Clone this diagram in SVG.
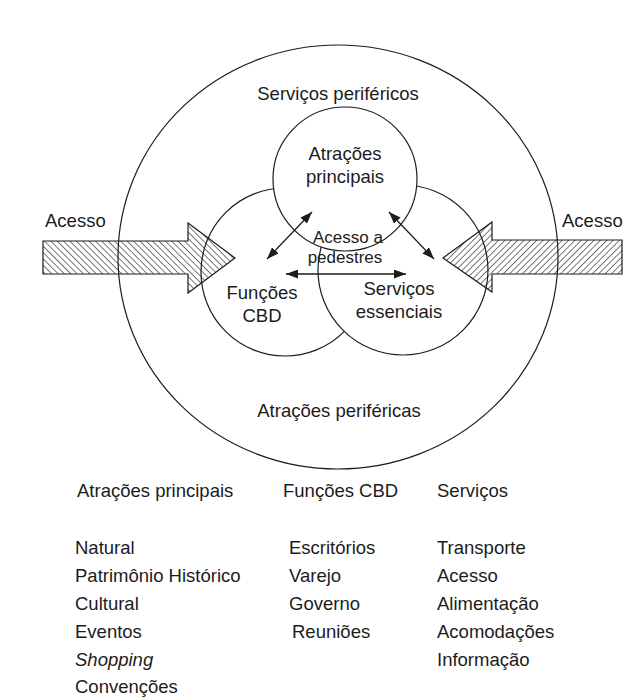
<svg xmlns="http://www.w3.org/2000/svg" width="627" height="700" viewBox="0 0 627 700">
<style>
text{font-family:"Liberation Sans",Arial,sans-serif;font-size:18.5px;fill:#1c1c1c}
.c{text-anchor:middle}
.ring{fill:#fff;stroke:#1c1c1c;stroke-width:1.2}
.acc{stroke:#1c1c1c;stroke-width:1.2}
.link{stroke:#1c1c1c;stroke-width:1.3;fill:none;marker-start:url(#ah);marker-end:url(#ah)}
.sm{font-size:17px}
</style>
<defs>
<pattern id="hl" width="4.5" height="4.5" patternUnits="userSpaceOnUse" patternTransform="rotate(-45)">
<line x1="0" y1="0" x2="0" y2="4.5" stroke="#1c1c1c" stroke-width="1.2"/>
</pattern>
<pattern id="hr" width="4.5" height="4.5" patternUnits="userSpaceOnUse" patternTransform="rotate(45)">
<line x1="0" y1="0" x2="0" y2="4.5" stroke="#1c1c1c" stroke-width="1.2"/>
</pattern>
<marker id="ah" markerUnits="userSpaceOnUse" markerWidth="13" markerHeight="9" refX="12" refY="4.5" orient="auto-start-reverse">
<path d="M0,0 L12,4.5 L0,9 z" fill="#1c1c1c"/>
</marker>
</defs>
<rect width="627" height="700" fill="#fff"/>
<g id="outer">
<ellipse cx="338" cy="257" rx="220" ry="212" fill="#fff" stroke="#1c1c1c" stroke-width="1.2"/>
<text class="c" x="338" y="100">Serviços periféricos</text>
<text class="c" x="339" y="417">Atrações periféricas</text>
</g>
<g id="cbd">
<circle class="ring" cx="285" cy="272" r="84"/>
<text class="c" x="262" y="299">Funções</text>
<text class="c" x="262" y="322">CBD</text>
</g>
<g id="servicos">
<circle class="ring" cx="403" cy="270" r="85"/>
<text class="c" x="399" y="295">Serviços</text>
<text class="c" x="399" y="318">essenciais</text>
</g>
<g id="atracoes">
<circle class="ring" cx="345" cy="179" r="72"/>
<text class="c" x="345" y="160">Atrações</text>
<text class="c" x="345" y="183">principais</text>
</g>
<g id="pedestres">
<text class="c sm" x="348" y="243">Acesso a</text>
<text class="c sm" x="345" y="263">pedestres</text>
</g>
<g id="acesso-esq">
<path class="acc" d="M43,241 L188,241 L188,223 L235,258 L188,293 L188,274 L43,274 Z" fill="url(#hl)"/>
<text x="45" y="227">Acesso</text>
</g>
<g id="acesso-dir">
<path class="acc" d="M622,240 L492,240 L492,222 L443,258 L492,292 L492,274 L622,274 Z" fill="url(#hr)"/>
<text x="562" y="227">Acesso</text>
</g>
<g id="connectors">
<line class="link" x1="286" y1="274" x2="406" y2="274"/>
<line class="link" x1="312" y1="212" x2="267" y2="259"/>
<line class="link" x1="389" y1="212" x2="434" y2="259"/>
</g>
<g id="lista-atracoes">
<text x="77" y="497">Atrações principais</text>
<text x="75" y="554">Natural</text>
<text x="75" y="582">Patrimônio Histórico</text>
<text x="75" y="610">Cultural</text>
<text x="75" y="638">Eventos</text>
<text x="75" y="666" font-style="italic">Shopping</text>
<text x="75" y="693">Convenções</text>
</g>
<g id="lista-cbd">
<text x="283" y="497">Funções CBD</text>
<text x="289" y="554">Escritórios</text>
<text x="289" y="582">Varejo</text>
<text x="289" y="610">Governo</text>
<text x="292" y="638">Reuniões</text>
</g>
<g id="lista-servicos">
<text x="437" y="497">Serviços</text>
<text x="437" y="554">Transporte</text>
<text x="437" y="582">Acesso</text>
<text x="437" y="610">Alimentação</text>
<text x="437" y="638">Acomodações</text>
<text x="437" y="666">Informação</text>
</g>
</svg>
